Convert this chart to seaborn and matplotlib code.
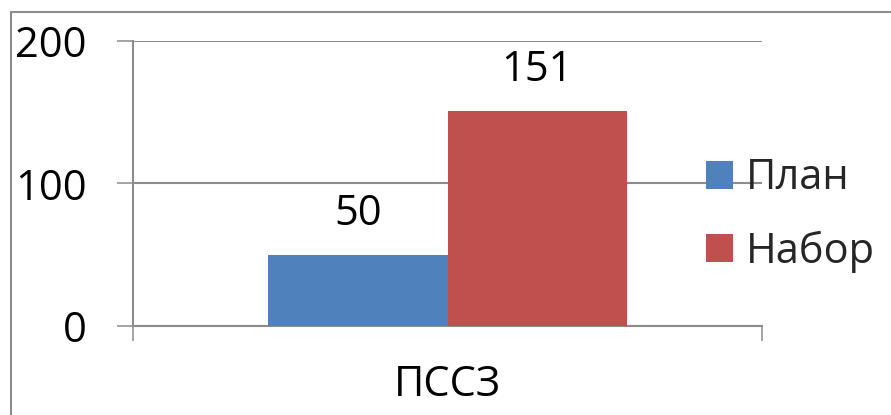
import matplotlib
matplotlib.use("Agg")
import matplotlib.pyplot as plt
from matplotlib.patches import Rectangle, Patch
import seaborn as sns
import pandas as pd

categories = ["ПССЗ"]
series = ["План", "Набор"]
values_plan = [50]
values_nabor = [151]
colors = ["#4F81BD", "#C0504D"]
y_ticks = [0, 100, 200]

df = pd.DataFrame({
    "cat": categories * 2,
    "series": [series[0]] * len(categories) + [series[1]] * len(categories),
    "value": values_plan + values_nabor,
})

sns.set_theme(style="white")
plt.rcParams["font.family"] = ["Open Sans", "DejaVu Sans"]

W, H = 891, 415
fig = plt.figure(figsize=(W / 100, H / 100), dpi=100)
ax = fig.add_axes([133 / W, (H - 326) / H, (762 - 133) / W, (326 - 41) / H])

grid_c = "#8c8c8c"
sns.barplot(data=df, x="cat", y="value", hue="series", palette=colors,
            width=0.571, gap=0, saturation=1, ax=ax, legend=False, zorder=3,
            linewidth=0, edgecolor="none")

ax.set_xlim(-0.5, 0.5)
ax.set_ylim(0, 200)
ax.set_yticks(y_ticks)
ax.yaxis.grid(True, color=grid_c, linewidth=1.5, zorder=0)
ax.set_axisbelow(True)
for s in ["top", "right"]:
    ax.spines[s].set_visible(False)
for s in ["left", "bottom"]:
    ax.spines[s].set_color(grid_c)
    ax.spines[s].set_linewidth(1.5)
ax.set_xlabel("")
ax.set_ylabel("")

ax.tick_params(axis="y", which="major", direction="out", length=11.5, width=1.1,
               color=grid_c, labelsize=30, pad=22, left=True)
ax.tick_params(axis="x", which="major", length=0, labelsize=30, pad=27)
ax.set_xticks([-0.5, 0.5], minor=True)
ax.tick_params(axis="x", which="minor", direction="out", length=11, width=1.1,
               color=grid_c, bottom=True)
for lab in ax.get_yticklabels() + ax.get_xticklabels():
    lab.set_color("black")

for cont in ax.containers:
    ax.bar_label(cont, fmt="%g", fontsize=30, padding=14, color="black")

handles = [Patch(facecolor=c, edgecolor="none") for c in colors]
fig.legend(handles, series, loc="center left", bbox_to_anchor=(706 / W, (H - 215) / H),
           frameon=False, fontsize=30, handlelength=0.65, handleheight=0.65,
           handletextpad=0.3, labelspacing=0.75, borderpad=0, borderaxespad=0)

fig.patches.append(Rectangle((11 / W, -0.2), 1.2, (H - 12) / H + 0.2,
                             transform=fig.transFigure, fill=False,
                             edgecolor="#8c8c8c", linewidth=1.5))

fig.savefig("out.png", dpi=100)
